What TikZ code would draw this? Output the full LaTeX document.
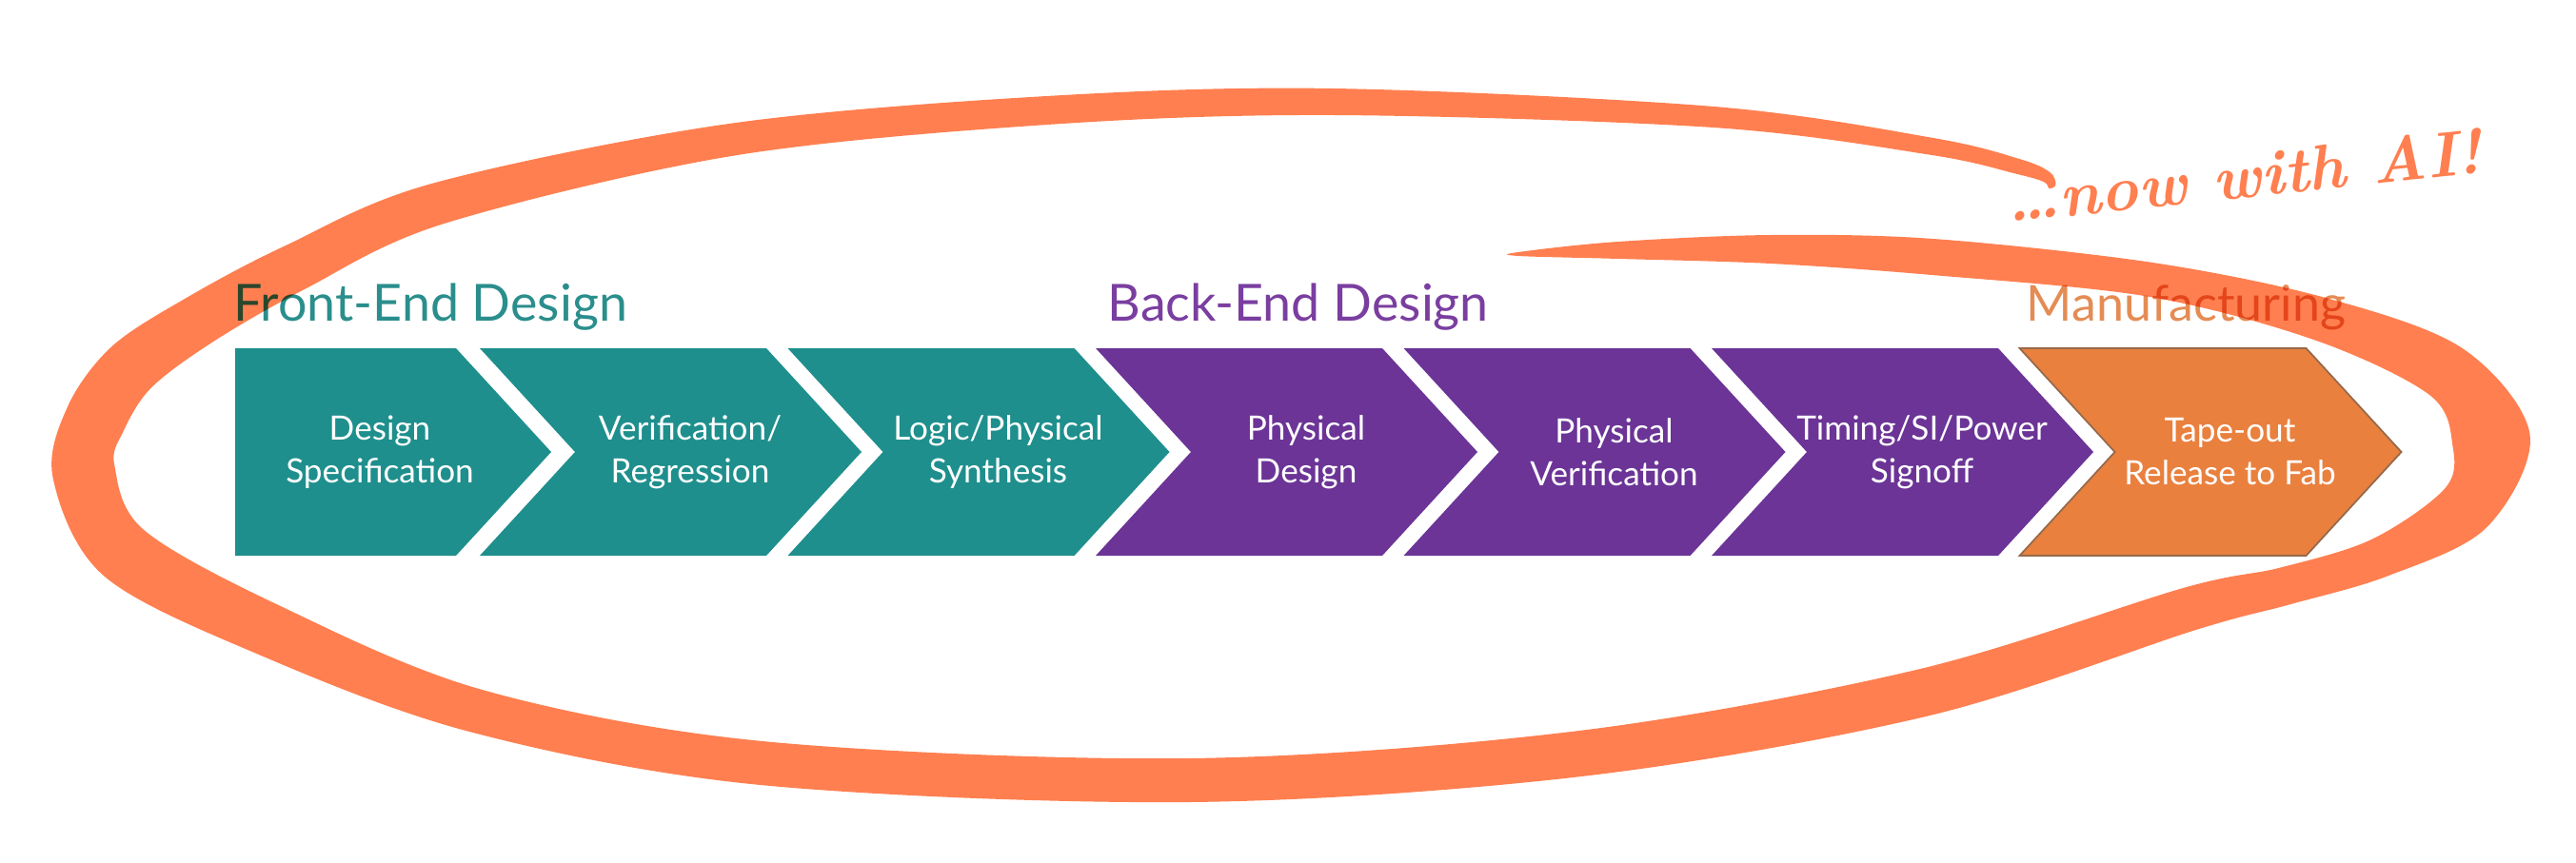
\documentclass[tikz,border=0pt]{standalone}
\usepackage{fontspec}
\setsansfont{Lato}
\usetikzlibrary{calc}

\definecolor{frontcol}{RGB}{30,143,141}
\definecolor{backcol}{RGB}{107,52,150}
\definecolor{fabcol}{RGB}{233,128,62}
\definecolor{fabedge}{RGB}{150,105,75}
\definecolor{fronttxt}{RGB}{42,142,140}
\definecolor{backtxt}{RGB}{122,62,160}
\definecolor{fabtxt}{RGB}{228,140,84}
\definecolor{brushcol}{RGB}{255,127,80}

\begin{document}
\begin{tikzpicture}[
  frontstep/.style={fill=frontcol},
  backstep/.style={fill=backcol},
  fabstep/.style={fill=fabcol,draw=fabedge,line width=0.5pt},
  steptext/.style={text=white,font=\sffamily\fontsize{10}{12.8}\selectfont,align=center},
  phase/.style={font=\sffamily\fontsize{15.3}{18}\selectfont,anchor=base west,inner sep=0pt},
  brush/.style={fill=brushcol}
]
\useasboundingbox (0,0) rectangle (27.06,9.06);

% first step, flat left side
\path[frontstep] (2.47,3.22) -- (2.47,5.40) -- (4.79,5.40) -- (5.79,4.31) -- (4.79,3.22) -- cycle;
\node[steptext] (spec) at (3.99,4.31) {Design\\Specification};

% the other steps
\foreach \s/\st/\nm/\txt in {5.04/frontstep/verif/{Verification/\\Regression},8.275/frontstep/synth/{Logic/Physical\\Synthesis},11.51/backstep/pd/{Physical\\Design},14.745/backstep/pv/{Physical\\Verification},17.98/backstep/signoff/{Timing/SI/Power\\Signoff},21.215/fabstep/tapeout/{Tape-out\\Release to Fab}}{
	\path[\st] (\s,3.22) -- (\s+1,4.31) -- (\s,5.40) -- (\s+3.01,5.40) -- (\s+4.01,4.31) -- (\s+3.01,3.22) -- cycle;
	\node[steptext] (\nm) at (\s+2.21,4.31) {\txt};
}

% phase titles
\node[phase,text=fronttxt] (front) at (2.45,5.69) {Front-End Design};
\node[phase,text=backtxt] (back) at (11.63,5.69) {Back-End Design};
\node[phase,text=fabtxt,font=\sffamily\fontsize{14.8}{18}\selectfont] (manuf) at (21.28,5.69) {Manufacturing};

% note
\node[text=brushcol,font=\bfseries\itshape\fontsize{19}{23}\selectfont,rotate=6,anchor=base west,inner sep=0pt] (ai) at (21.09,6.72) {\ldots now with AI!};

% brush loop: centre line, then width
\foreach \x/\y [count=\i from 0] in {15.95/6.39,17.0/6.43,18.6/6.44,20.3/6.36,22.6/6.12,24.4/5.7,25.7/5.15,26.17/4.43,25.9/3.72,25.0/3.2,24.0/2.9,23.0/2.66,20.2/1.78,16.6/1.14,12.5/0.86,8.0/1.04,5.0/1.59,2.8/2.45,1.3/3.25,0.88/4.1,1.0/4.65,1.38/5.2,2.1/5.7,3.1/6.25,4.6/6.92,7.67/7.59,11.0/7.9,14.0/7.99,18.0/7.83,20.3/7.52,21.2/7.31,21.5/7.2,21.56/7.1}{
	\coordinate (c\i) at (\x,\y);
}
\foreach \t [count=\i from 0] in {0.02,0.09,0.15,0.19,0.18,0.23,0.3,0.41,0.3,0.21,0.2,0.23,0.25,0.24,0.23,0.23,0.23,0.28,0.32,0.33,0.32,0.3,0.27,0.25,0.22,0.17,0.15,0.14,0.11,0.09,0.08,0.06,0.04}{
	\pgfmathtruncatemacro\p{max(\i-1,0)}
	\pgfmathtruncatemacro\n{min(\i+1,32)}
	\coordinate (v\i) at ($(c\p)!\t cm!90:(c\n)$);
	\coordinate (a\i) at ($(c\i)+(v\i)-(c\p)$);
	\coordinate (b\i) at ($(c\i)-(v\i)+(c\p)$);
}
\begin{scope}[blend mode=multiply]
\fill[brush] plot[smooth cycle,tension=0.55] coordinates {(a0) (a1) (a2) (a3) (a4) (a5) (a6) (a7) (a8) (a9) (a10) (a11) (a12) (a13) (a14) (a15) (a16) (a17) (a18) (a19) (a20) (a21) (a22) (a23) (a24) (a25) (a26) (a27) (a28) (a29) (a30) (a31) (a32) (b32) (b31) (b30) (b29) (b28) (b27) (b26) (b25) (b24) (b23) (b22) (b21) (b20) (b19) (b18) (b17) (b16) (b15) (b14) (b13) (b12) (b11) (b10) (b9) (b8) (b7) (b6) (b5) (b4) (b3) (b2) (b1) (b0)};
\end{scope}
\end{tikzpicture}
\end{document}
